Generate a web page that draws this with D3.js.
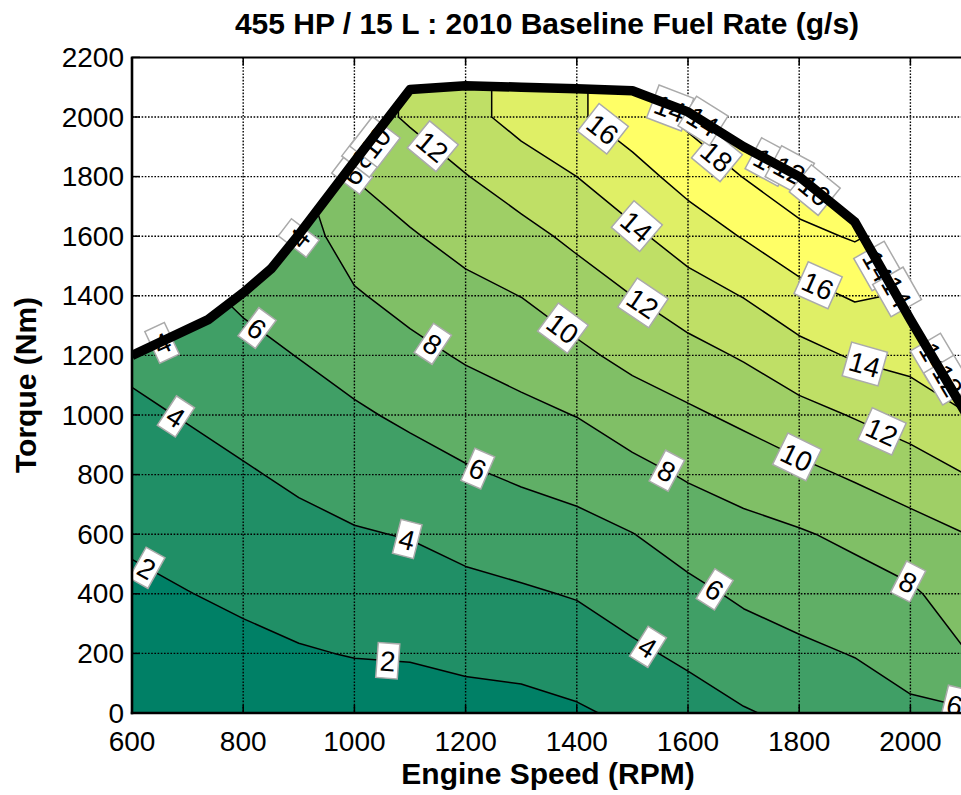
<!DOCTYPE html>
<html><head><meta charset="utf-8">
<script src="https://cdn.jsdelivr.net/npm/d3@7"></script>
<style>
body{margin:0;background:#fff}
svg{display:block}
text{font-family:"Liberation Sans",Arial,Helvetica,sans-serif;fill:#000}
</style>
</head><body>
<svg id="chart" width="961" height="795"></svg>
<script>
// ---------------- data ----------------
const speeds  = [600,700,800,900,1000,1100,1200,1300,1400,1500,1600,1700,1800,1900,2000,2100];
const torques = [0,200,400,600,800,1000,1200,1400,1600,1800,2000,2200];
// fuel rate (g/s): one array per engine speed, values from 0 Nm upward
const fuelRate = [
  [0.60,1.13,1.66,2.25,2.96,3.67,4.38,5.10,5.80,6.50,7.20,7.90],   // 600
  [0.75,1.36,1.96,2.67,3.39,4.11,4.83,5.55,6.27,7.00,7.70,8.40],   // 700
  [0.90,1.58,2.30,3.06,3.81,4.63,5.47,6.31,6.90,7.50,8.10,8.70],   // 800
  [1.00,1.86,2.68,3.49,4.32,5.19,6.05,6.60,7.15,7.70,8.20,8.70],   // 900
  [1.10,2.08,2.97,3.86,4.79,5.73,6.76,7.81,8.93,10.06,11.20,11.20],// 1000
  [1.15,2.15,3.12,4.09,5.21,6.34,7.48,8.64,9.82,11.01,12.21,12.21],// 1100
  [1.30,2.44,3.49,4.60,5.77,6.98,8.20,9.44,10.68,11.92,13.39,13.39],// 1200
  [1.41,2.62,3.77,5.01,6.26,7.52,8.77,10.03,11.41,12.98,14.69,14.69],// 1300
  [1.78,2.95,4.13,5.39,6.69,8.05,9.60,11.01,12.43,14.00,15.75,15.75],// 1400
  [2.35,3.69,4.82,5.96,7.42,8.97,10.53,12.00,13.61,15.29,17.00,17.00],// 1500
  [3.18,4.35,5.54,6.83,8.19,9.67,11.32,13.13,14.94,16.70,18.45,18.45],// 1600
  [3.86,5.10,6.30,7.41,8.78,10.44,12.20,14.07,16.12,18.05,19.00,19.00],// 1700
  [4.40,5.64,6.76,7.82,9.48,11.34,13.35,15.32,17.46,19.30,19.40,19.40],// 1800
  [4.98,6.08,7.17,8.42,10.24,12.13,14.20,16.21,18.19,19.00,19.00,19.00],// 1900
  [5.67,6.71,7.72,9.23,11.01,12.95,14.59,15.82,17.20,18.50,19.00,19.00],// 2000
  [5.80,7.95,8.98,9.99,12.00,13.90,15.90,17.50,18.50,19.00,19.00,19.00] // 2100
];
const bandLevels = [0,2,4,6,8,10,12,14,16];
const lineLevels = [2,4,6,8,10,12,14,16,18];
// maximum torque curve
const curveSpeed  = [600,737,800,850,900,1000,1100,1200,1300,1400,1500,1600,1700,1800,1900,2000,2100];
const curveTorque = [1200,1320,1410,1490,1605,1850,2092,2105,2100,2095,2088,2017,1900,1800,1648,1320,1005];
const xTicks = [600,800,1000,1200,1400,1600,1800,2000];
const yTicks = [0,200,400,600,800,1000,1200,1400,1600,1800,2000,2200];
// inline contour labels: [level, speed, approx torque]
const contourLabels = [
  [2,627,507],[2,1060,170],[4,679,980],[4,1095,580],[4,1528,220],
  [6,825,1290],[6,1222,820],[6,1648,415],[6,2080,25],
  [8,1141,1240],[8,1562,820],[8,1996,440],
  [10,1375,1280],[10,1796,850],
  [12,1141,1880],[12,1519,1340],[12,1949,950],
  [14,1508,1590],[14,1918,1160],
  [16,1447,1950],[16,1834,1430],
  [18,1652,1850]
];
// labels left on the max-torque boundary: [text, speed, torque]
const boundaryLabels = [
  ["4",654,1242],["4",900,1594],
  ["6",996,1805],["8",1014,1862],["10",1037,1916],
  ["14",1568,2030],["14",1627,1987],
  ["14",1747,1849],["12",1783,1822],["16",1828,1755],
  ["14",1942,1500],["14",1976,1413],
  ["14",2044,1191],["12",2068,1117]
];

// ---------------- layout ----------------
const svg = d3.select("#chart");
const L = 132, R = 966, T = 57.4, B = 713;
const x = d3.scaleLinear().domain([600,2100]).range([L,R]);
const y = d3.scaleLinear().domain([0,2200]).range([B,T]);

const nx = speeds.length, ny = torques.length;
const values = [];
for (let j = 0; j < ny; j++) for (let i = 0; i < nx; i++) values.push(fuelRate[i][j]);

const gx = d3.scaleLinear().domain([0.5, nx-0.5]).range([speeds[0], speeds[nx-1]]);
const gy = d3.scaleLinear().domain([0.5, ny-0.5]).range([torques[0], torques[ny-1]]);
const proj = d3.geoTransform({point(px,py){ this.stream.point(x(gx(px)), y(gy(py))); }});
const path = d3.geoPath(proj);
const gen = d3.contours().size([nx, ny]);

const summer = v => { const t = Math.max(0, Math.min(1, v/16));
  return d3.rgb(Math.round(255*t), Math.round(255*(0.5+0.5*t)), 102).toString(); };

// clip: area below max torque curve
const curvePts = curveSpeed.map((s,i)=>[x(s), y(curveTorque[i])]);
const defs = svg.append("defs");
const clipPts = [[x(600), y(0)], ...curvePts, [x(2100), y(0)]];
defs.append("clipPath").attr("id","under")
  .append("path").attr("d", "M" + clipPts.map(p=>p.join(",")).join("L") + "Z");
defs.append("clipPath").attr("id","plot")
  .append("rect").attr("x",L).attr("y",T).attr("width",R-L).attr("height",B-T);

const gMap = svg.append("g").attr("clip-path","url(#under)");
bandLevels.forEach(lv => {
  gMap.append("path").attr("d", path(gen.contour(values, lv)))
    .attr("fill", summer(lv)).attr("stroke", summer(lv)).attr("stroke-width", 0.5);
});
lineLevels.forEach(lv => {
  gMap.append("path").attr("d", path(gen.contour(values, lv)))
    .attr("fill","none").attr("stroke","#000").attr("stroke-width",1.5)
    .attr("stroke-linejoin","round");
});

// grid (dotted)
const gGrid = svg.append("g").attr("clip-path","url(#plot)");
xTicks.forEach(s => gGrid.append("line").attr("x1",x(s)).attr("x2",x(s)).attr("y1",T).attr("y2",B)
  .attr("stroke","#000").attr("stroke-width",1.4).attr("stroke-dasharray","1.6,1.6"));
yTicks.forEach(t => gGrid.append("line").attr("x1",L).attr("x2",R).attr("y1",y(t)).attr("y2",y(t))
  .attr("stroke","#000").attr("stroke-width",1.4).attr("stroke-dasharray","1.6,1.6"));

// labels
const gLab = svg.append("g").attr("clip-path","url(#plot)");
function drawLabel(txt, cx, cy, ang){
  while (ang > 90) ang -= 180;
  while (ang < -90) ang += 180;
  const g = gLab.append("g").attr("transform",`translate(${cx},${cy}) rotate(${ang})`);
  const w = txt.length*15.6 + 6, h = 35;
  g.append("rect").attr("x",-w/2).attr("y",-h/2).attr("width",w).attr("height",h)
    .attr("fill","#fff").attr("stroke","#aaaaaa").attr("stroke-width",1.5);
  g.append("text").attr("text-anchor","middle").attr("dominant-baseline","central")
    .attr("y",1).attr("font-size",28).text(txt);
}
contourLabels.forEach(([lv, sp, tq]) => {
  const c = gen.contour(values, lv);
  const X = x(sp), Y0 = y(tq);
  let best = null;
  c.coordinates.forEach(poly => poly.forEach(ring => {
    for (let k = 0; k < ring.length-1; k++) {
      const a = [x(gx(ring[k][0])), y(gy(ring[k][1]))];
      const b = [x(gx(ring[k+1][0])), y(gy(ring[k+1][1]))];
      if ((a[0]-X)*(b[0]-X) <= 0 && a[0] !== b[0]) {
        const t = (X-a[0])/(b[0]-a[0]);
        const Y = a[1] + t*(b[1]-a[1]);
        const d = Math.abs(Y-Y0);
        if (!best || d < best.d) best = {d, Y, ang: Math.atan2(b[1]-a[1], b[0]-a[0])*180/Math.PI};
      }
    }
  }));
  if (best) drawLabel(String(lv), X, best.Y, best.ang);
});
boundaryLabels.forEach(([txt, sp, tq]) => {
  let k = d3.bisectRight(curveSpeed, sp) - 1;
  k = Math.max(0, Math.min(curveSpeed.length-2, k));
  const a = curvePts[k], b = curvePts[k+1];
  drawLabel(txt, x(sp), y(tq), Math.atan2(b[1]-a[1], b[0]-a[0])*180/Math.PI);
});

// max torque curve
svg.append("path").attr("clip-path","url(#plot)")
  .attr("d", d3.line()(curvePts)).attr("fill","none").attr("stroke","#000")
  .attr("stroke-width",9.5).attr("stroke-linejoin","round").attr("stroke-linecap","butt");

// axes box + ticks
const gAx = svg.append("g");
gAx.append("line").attr("x1",L).attr("x2",L).attr("y1",T).attr("y2",B+1.2).attr("stroke","#000").attr("stroke-width",2.6);
gAx.append("line").attr("x1",L-1.2).attr("x2",R).attr("y1",B).attr("y2",B).attr("stroke","#000").attr("stroke-width",2.6);
gAx.append("line").attr("x1",L-1.2).attr("x2",R).attr("y1",T).attr("y2",T).attr("stroke","#000").attr("stroke-width",2);
xTicks.forEach(s => {
  gAx.append("line").attr("x1",x(s)).attr("x2",x(s)).attr("y1",B).attr("y2",B-8).attr("stroke","#000").attr("stroke-width",1.5);
  gAx.append("line").attr("x1",x(s)).attr("x2",x(s)).attr("y1",T).attr("y2",T+8).attr("stroke","#000").attr("stroke-width",1.5);
  gAx.append("text").attr("x",x(s)).attr("y",751).attr("text-anchor","middle").attr("font-size",28).text(s);
});
yTicks.forEach(t => {
  gAx.append("line").attr("x1",L).attr("x2",L+8).attr("y1",y(t)).attr("y2",y(t)).attr("stroke","#000").attr("stroke-width",1.5);
  gAx.append("text").attr("x",124).attr("y",y(t)).attr("text-anchor","end")
    .attr("dominant-baseline","central").attr("font-size",28).text(t);
});

// titles
svg.append("text").attr("x",547).attr("y",34).attr("text-anchor","middle")
  .attr("font-size",30).attr("font-weight","bold").text("455 HP / 15 L : 2010 Baseline Fuel Rate (g/s)");
svg.append("text").attr("x",548).attr("y",784).attr("text-anchor","middle")
  .attr("font-size",30).attr("font-weight","bold").text("Engine Speed (RPM)");
svg.append("text").attr("transform","translate(36,385) rotate(-90)").attr("text-anchor","middle")
  .attr("font-size",30).attr("font-weight","bold").text("Torque (Nm)");
</script>
</body></html>
